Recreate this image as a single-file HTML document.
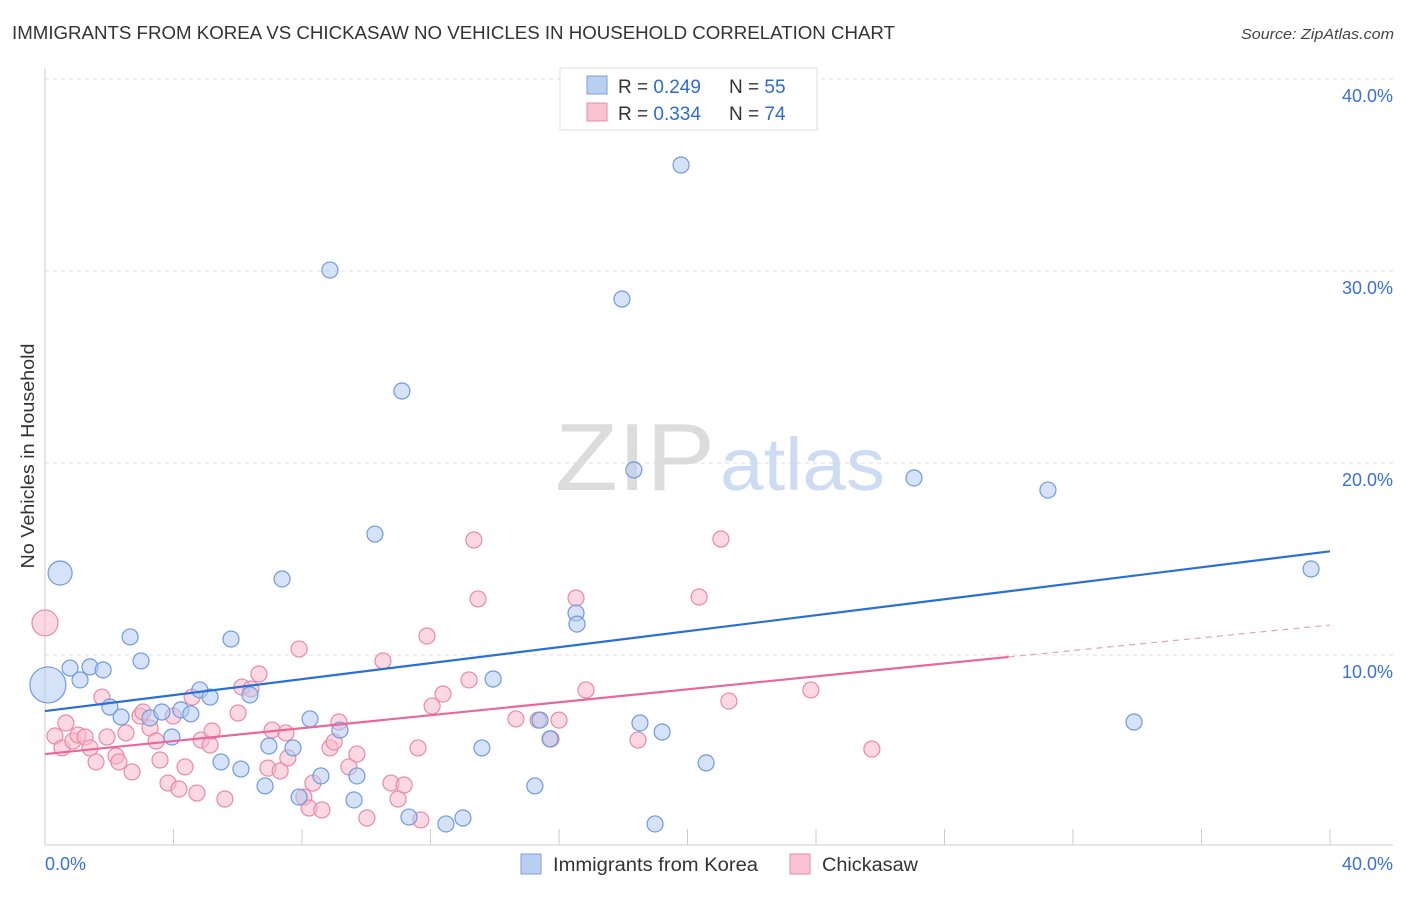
<!DOCTYPE html>
<html><head><meta charset="utf-8">
<style>
body{margin:0;background:#fff;font-family:"Liberation Sans",sans-serif;}
svg text{font-family:"Liberation Sans",sans-serif;}
</style></head>
<body>
<svg id="chart" width="1406" height="892" viewBox="0 0 1406 892" xmlns="http://www.w3.org/2000/svg">
<text x="12" y="39" font-size="18" fill="#333" textLength="883" lengthAdjust="spacingAndGlyphs">IMMIGRANTS FROM KOREA VS CHICKASAW NO VEHICLES IN HOUSEHOLD CORRELATION CHART</text>
<text x="1394" y="39" font-size="15" fill="#444" font-style="italic" text-anchor="end" textLength="153" lengthAdjust="spacingAndGlyphs">Source: ZipAtlas.com</text>
<g id="grid"></g>
<g id="watermark">
<text x="555" y="490" font-size="96" fill="#dcdcdc" font-family="Liberation Serif,serif" textLength="160" lengthAdjust="spacingAndGlyphs">ZIP</text>
<text x="720" y="490" font-size="74" fill="#cddcf2" textLength="165" lengthAdjust="spacingAndGlyphs">atlas</text>
</g>
<g id="axes"></g>
<g id="points"></g>
<g id="lines"></g>
<text transform="translate(34,456) rotate(-90)" font-size="18" fill="#333" text-anchor="middle" textLength="225" lengthAdjust="spacingAndGlyphs">No Vehicles in Household</text>
<g>
<rect x="560" y="68" width="257" height="62" fill="#fff" stroke="#ddd"/>
<rect x="587" y="76" width="20" height="18" fill="#b9d0f3" stroke="#7aa0dd"/>
<text x="618" y="93" font-size="19" fill="#333">R = <tspan fill="#2f6ad0">0.249</tspan></text>
<text x="729" y="93" font-size="19" fill="#333">N = <tspan fill="#2f6ad0">55</tspan></text>
<rect x="587" y="103" width="20" height="18" fill="#f9c3d3" stroke="#e88aa8"/>
<text x="618" y="120" font-size="19" fill="#333">R = <tspan fill="#2f6ad0">0.334</tspan></text>
<text x="729" y="120" font-size="19" fill="#333">N = <tspan fill="#2f6ad0">74</tspan></text>
</g>
<g>
<rect x="521" y="854" width="20" height="20" fill="#b9d0f3" stroke="#7aa0dd"/>
<text x="553" y="871" font-size="19" fill="#333" textLength="205" lengthAdjust="spacingAndGlyphs">Immigrants from Korea</text>
<rect x="790" y="854" width="20" height="20" fill="#f9c3d3" stroke="#e88aa8"/>
<text x="822" y="871" font-size="19" fill="#333" textLength="96" lengthAdjust="spacingAndGlyphs">Chickasaw</text>
</g>
</svg>
<script>
const yTicks=[10,20,30,40];
const yTickLabels=["10.0%","20.0%","30.0%","40.0%"];
const xTickLabels=["0.0%","40.0%"];
const koreaX=[0.09,0.47,0.78,1.09,1.40,1.81,2.02,2.37,2.65,2.99,3.27,3.64,3.95,4.23,4.54,4.82,5.14,5.48,5.79,6.10,6.38,6.85,6.97,7.38,7.72,7.91,8.25,8.59,8.87,9.18,9.62,9.71,10.27,11.11,11.33,12.48,13.01,13.60,13.95,15.25,15.41,15.72,16.53,16.56,17.96,18.33,18.52,18.99,19.21,19.80,20.58,27.05,31.22,33.90,39.41];
const koreaY=[8.44,14.27,9.32,8.70,9.38,9.22,7.29,6.77,10.94,9.69,6.72,7.03,5.73,7.14,6.93,8.18,7.81,4.43,10.83,4.06,7.92,3.18,5.26,13.96,5.16,2.60,6.67,3.70,30.05,6.09,2.45,3.70,16.30,23.75,1.56,1.20,1.51,5.16,8.75,3.18,6.61,5.63,12.19,11.61,28.54,19.64,6.46,1.20,5.99,35.52,4.38,19.22,18.59,6.51,14.48];
const koreaSize=[18,12];
const chickX=[0,0.31,0.53,0.65,0.87,1.03,1.25,1.40,1.59,1.77,1.93,2.21,2.30,2.52,2.71,2.96,3.05,3.27,3.46,3.58,3.83,3.99,4.17,4.36,4.58,4.73,4.86,5.14,5.20,5.60,6.01,6.13,6.41,6.66,6.94,7.07,7.32,7.50,7.56,7.91,8.06,8.22,8.34,8.62,8.87,9.00,9.15,9.46,9.71,10.02,10.52,10.77,10.99,11.18,11.61,11.70,11.89,12.05,12.39,13.20,13.35,13.48,14.66,15.35,15.75,16.00,16.53,16.84,18.46,20.36,21.04,21.29,23.84,25.74];
const chickY=[11.67,5.78,5.16,6.46,5.52,5.83,5.73,5.16,4.43,7.81,5.73,4.74,4.43,5.94,3.91,6.82,7.03,6.20,5.52,4.53,3.33,6.82,3.02,4.17,7.81,2.81,5.57,5.31,6.04,2.50,6.98,8.33,8.23,9.01,4.11,6.09,3.96,5.94,4.64,10.31,2.60,2.03,3.33,1.93,5.16,5.47,6.51,4.17,4.84,1.51,9.69,3.33,2.50,3.23,5.16,1.41,10.99,7.34,7.97,8.70,15.99,12.92,6.67,6.61,5.63,6.61,12.97,8.18,5.57,13.02,16.04,7.60,8.18,5.10];
const chickSize=[13];
const koreaTrend=[[0,7.08],[40,15.4]];
const chickTrend=[[0,4.84],[30,9.9],[40,11.56]];

const NS="http://www.w3.org/2000/svg";
const X0=45,X1=1330,Y0=847,PPY=19.2;
const sx=v=>X0+(X1-X0)*v/40;
const sy=v=>Y0-v*PPY;
function mk(tag,attrs,parent){const e=document.createElementNS(NS,tag);for(const k in attrs)e.setAttribute(k,attrs[k]);parent.appendChild(e);return e;}
const grid=document.getElementById('grid'),axes=document.getElementById('axes'),pts=document.getElementById('points'),lines=document.getElementById('lines');
yTicks.forEach((t,i)=>{
 const l=mk('line',{x1:45,x2:1393,y1:sy(t),y2:sy(t),stroke:'#ddd','stroke-dasharray':'4,4'},grid);
 
 
 const tx=mk('text',{x:1393,y:sy(t)+23,'font-size':18,fill:'#3a6fd8','text-anchor':'end'},axes);
 tx.textContent=yTickLabels[i];
 
 
});
const ya=mk('line',{x1:45,x2:45,y1:68,y2:845,stroke:'#ccc'},axes);


const xa=mk('line',{x1:45,x2:1393,y1:845,y2:845,stroke:'#ccc'},axes);


for(let k=0;k<=10;k++){
 const tk=mk('line',{x1:sx(k*4),x2:sx(k*4),y1:829,y2:845,stroke:'#ccc'},axes);
 
 
}
const xl0=mk('text',{x:45,y:870,'font-size':18,fill:'#3a6fd8'},axes);
xl0.textContent=xTickLabels[0];


const xl1=mk('text',{x:1393,y:870,'font-size':18,fill:'#3a6fd8','text-anchor':'end'},axes);
xl1.textContent=xTickLabels[1];



function dots(xs,ys,sizes,fill,stroke,name){
 xs.forEach((x,i)=>{
  const c=mk('circle',{cx:sx(x),cy:sy(ys[i]),r:sizes[i]||8,fill:fill,'fill-opacity':0.55,stroke:stroke,'stroke-width':1.2},pts);
  
  
 });
}
dots(chickX,chickY,chickSize,'#f7b8cb','#e88aa8','chickasaw-point');
dots(koreaX,koreaY,koreaSize,'#b3cbf0','#6f9ade','korea-point');

const kl=mk('line',{x1:sx(koreaTrend[0][0]),y1:sy(koreaTrend[0][1]),x2:sx(koreaTrend[1][0]),y2:sy(koreaTrend[1][1]),stroke:'#2a6fd6','stroke-width':2.2},lines);


const cl=mk('line',{x1:sx(chickTrend[0][0]),y1:sy(chickTrend[0][1]),x2:sx(chickTrend[1][0]),y2:sy(chickTrend[1][1]),stroke:'#e8689a','stroke-width':2.2},lines);


const cd=mk('line',{x1:sx(chickTrend[1][0]),y1:sy(chickTrend[1][1]),x2:sx(chickTrend[2][0]),y2:sy(chickTrend[2][1]),stroke:'#e8a0b8','stroke-width':1.2,'stroke-dasharray':'6,5'},lines);


</script>
</body></html>
